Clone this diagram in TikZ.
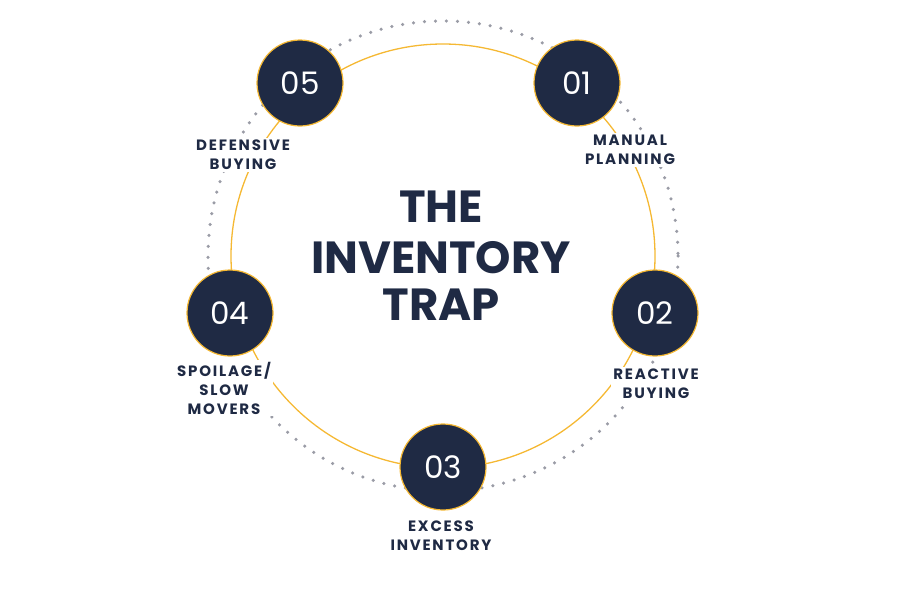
\documentclass[tikz,border=0pt]{standalone}
\usepackage{fontspec}
\setmainfont{Poppins}
\definecolor{navy}{HTML}{1F2A44}
\definecolor{gold}{HTML}{F5B833}
\definecolor{dotg}{HTML}{9A9CA6}
\begin{document}
\begin{tikzpicture}[x=1pt,y=-1pt,
 num/.style={circle,fill=navy,draw=gold,line width=1.2pt,minimum size=86pt,inner sep=0pt,text=white,font=\fontsize{31}{31}\selectfont},
 lab/.style={fill=white,text=navy,align=center,inner sep=2pt,font=\fontsize{15}{19}\selectfont\bfseries\addfontfeatures{LetterSpace=12}},
 ttl/.style={text=navy,font=\fontsize{45}{50}\selectfont\bfseries}]
\useasboundingbox (0,0) rectangle (900,600);
\draw[dotg,line width=3.5pt,line cap=round,dash pattern=on 0pt off 11pt] (443,256) circle (235);
\draw[gold,line width=1.3pt] (443,256) circle (212);
\node[lab] (l5) at (243,155) {DEFENSIVE\\BUYING};
\node[lab] (l1) at (630,150) {MANUAL\\PLANNING};
\node[lab] (l2) at (656,384) {REACTIVE\\BUYING};
\node[lab] (l3) at (441,536) {EXCESS\\INVENTORY};
\node[lab] (l4) at (224,388) {SPOILAGE/\\SLOW\\MOVERS};
\node[num] (n5) at (300,83) {05};
\node[num] (n1) at (577,83) {01};
\node[num] (n2) at (655,313) {02};
\node[num] (n3) at (443,467) {03};
\node[num] (n4) at (230,313) {04};
\node[ttl] (t1) at (441,207) {THE};
\node[ttl] (t2) at (441,258) {INVENTORY};
\node[ttl] (t3) at (441,305) {TRAP};
\end{tikzpicture}
\end{document}
